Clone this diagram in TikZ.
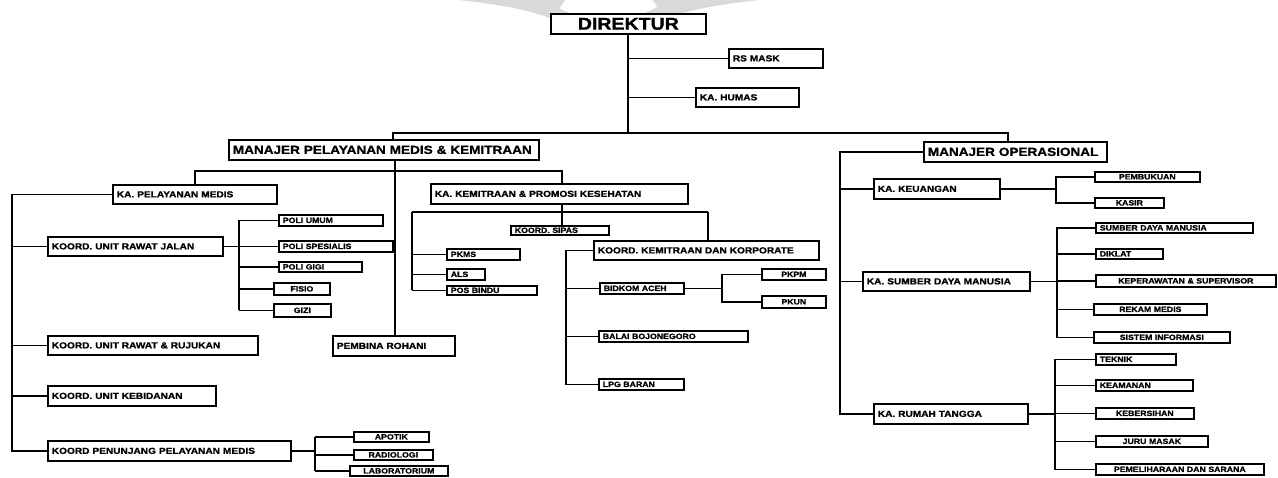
\documentclass[tikz,border=0pt]{standalone}
\usepackage{fontspec}
\setmainfont{Liberation Sans}[FakeStretch=1.15, BoldFeatures={FakeBold=1.2}]
\tikzset{
  box/.style={draw=black, line width=1.7pt, fill=white, inner xsep=4pt, inner ysep=0pt, align=left, font=\bfseries\fontsize{7.6}{8}\selectfont},
  fbig/.style={font=\bfseries\fontsize{11.8}{12}\selectfont},
  fmed/.style={font=\bfseries\fontsize{8.8}{10}\selectfont},
  fdir/.style={font=\bfseries\fontsize{17}{18}\selectfont, align=center},
  ctr/.style={align=center},
  link/.style={draw=black, line width=1.5pt},
  wm/.style={gray!30}
}
\newcommand\bx[7][]{%
  \pgfmathsetmacro\bw{#5-#3}\pgfmathsetmacro\bh{#6-#4}\pgfmathsetmacro\tw{#5-#3-8}%
  \node[box,#1,anchor=north west,minimum width=\bw pt,minimum height=\bh pt,text width=\tw pt] (#2) at (#3,#4) {#7};}
\begin{document}
\begin{tikzpicture}[x=1pt,y=-1pt]
\useasboundingbox (0,0) rectangle (1278,477);
\clip (0,0) rectangle (1278,477);
\fill[white] (0,0) rectangle (1278,477);
% watermark (faint logo at the top)
\fill[wm] (448,-1) .. controls (500,4) and (530,10) .. (552,19) -- (566,-1) -- cycle;
\fill[wm] (770,-1) .. controls (718,4) and (688,10) .. (666,19) -- (652,-1) -- cycle;
\draw[wm, line width=11pt] (607,-2) ellipse[x radius=62pt, y radius=26pt];
% top level
\bx[fdir]{dir}{550}{13}{705}{33}{DIREKTUR}
\bx[fmed]{rs}{728}{48}{822}{67}{RS MASK}
\bx[fmed]{hum}{695}{87}{798}{106}{KA. HUMAS}
\coordinate (t1) at (628,133);
\coordinate (ml) at (393,133);
\coordinate (mr) at (1008,133);
\draw[link] (dir.south -| t1) -- (t1);
\draw[link] (t1 |- rs.west) -- (rs.west);
\draw[link] (t1 |- hum.west) -- (hum.west);
\bx[fbig]{mpm}{228}{139}{538}{159}{MANAJER PELAYANAN MEDIS \& KEMITRAAN}
\bx[fbig]{mo}{923}{141}{1106}{161}{MANAJER OPERASIONAL}
\draw[link] (mpm.north -| ml) -- (ml) -- (mr) -- (mo.north -| mr);
% under manajer pelayanan
\bx[fmed]{kpm}{112}{184}{276}{203}{KA. PELAYANAN MEDIS}
\bx[fmed]{kkp}{430}{183}{687}{203}{KA. KEMITRAAN \& PROMOSI KESEHATAN}
\bx[fmed]{pr}{332}{335}{454}{355}{PEMBINA ROHANI}
\coordinate (pv) at (395,171);
\coordinate (hl) at (195,171);
\coordinate (hr) at (562,171);
\draw[link] (mpm.south -| pv) -- (pr.north -| pv);
\draw[link] (kpm.north -| hl) -- (hl) -- (hr) -- (kkp.north -| hr);
% pelayanan medis
\bx[fmed]{krj}{47}{236}{222}{255}{KOORD. UNIT RAWAT JALAN}
\bx[fmed]{kri}{47}{335}{257}{354}{KOORD. UNIT RAWAT \& RUJUKAN}
\bx[fmed]{kkb}{47}{385}{215}{405}{KOORD. UNIT KEBIDANAN}
\bx[fmed]{kpu}{47}{440}{290}{460}{KOORD PENUNJANG PELAYANAN MEDIS}
\coordinate (lv) at (12,194);
\draw[link] (kpm.west) -- (kpm.west -| lv) -- (lv |- kpu.west) -- (kpu.west);
\foreach \n in {krj,kri,kkb} \draw[link] (lv |- \n.west) -- (\n.west);
\bx{pu}{278}{214}{382}{225}{POLI UMUM}
\bx{ps}{278}{240}{392}{251}{POLI SPESIALIS}
\bx{pg}{278}{261}{361}{271}{POLI GIGI}
\bx[ctr]{fi}{273}{282}{329}{294}{FISIO}
\bx[ctr]{gz}{273}{303}{330}{316}{GIZI}
\coordinate (v1) at (239,245);
\draw[link] (krj.east) -- (krj.east -| v1);
\draw[link] (v1 |- pu.west) -- (v1 |- gz.west);
\foreach \n in {pu,ps,pg,fi,gz} \draw[link] (v1 |- \n.west) -- (\n.west);
\bx[ctr]{ap}{353}{431}{428}{441}{APOTIK}
\bx[ctr]{ra}{353}{449}{432}{459}{RADIOLOGI}
\bx[ctr]{lb}{349}{465}{447}{475}{LABORATORIUM}
\coordinate (v2) at (315,450);
\draw[link] (kpu.east) -- (kpu.east -| v2);
\draw[link] (v2 |- ap.west) -- (v2 |- lb.west);
\foreach \n in {ap,ra,lb} \draw[link] (v2 |- \n.west) -- (\n.west);
% kemitraan
\coordinate (k1) at (562,212);
\coordinate (kl) at (412,212);
\coordinate (kr) at (708,212);
\bx{ks}{510}{225}{608}{234}{KOORD. SIPAS}
\bx[fmed]{kk}{593}{240}{818}{259}{KOORD. KEMITRAAN DAN KORPORATE}
\draw[link] (kkp.south -| k1) -- (k1);
\draw[link] (kl) -- (kr);
\draw[link] (k1) -- (ks.north -| k1);
\draw[link] (kr) -- (kk.north -| kr);
\bx{pk}{446}{248}{519}{259}{PKMS}
\bx{al}{446}{268}{484}{279}{ALS}
\bx{pb}{446}{285}{536}{294}{POS BINDU}
\draw[link] (kl) -- (kl |- pb.west);
\foreach \n in {pk,al,pb} \draw[link] (kl |- \n.west) -- (\n.west);
\bx{ba}{599}{282}{683}{293}{BIDKOM ACEH}
\bx{bj}{598}{330}{747}{341}{BALAI BOJONEGORO}
\bx{lp}{598}{378}{683}{389}{LPG BARAN}
\coordinate (kv) at (566,249);
\draw[link] (kk.west) -- (kk.west -| kv) -- (kv |- lp.west) -- (lp.west);
\foreach \n in {ba,bj} \draw[link] (kv |- \n.west) -- (\n.west);
\bx[ctr]{pm}{761}{268}{825}{279}{PKPM}
\bx[ctr]{pn}{761}{295}{825}{307}{PKUN}
\coordinate (v3) at (722,287);
\draw[link] (ba.east) -- (ba.east -| v3);
\draw[link] (pm.west) -- (pm.west -| v3) -- (v3 |- pn.west) -- (pn.west);
% operasional
\bx[fmed]{ku}{873}{178}{999}{198}{KA. KEUANGAN}
\bx[fmed]{sd}{862}{271}{1029}{290}{KA. SUMBER DAYA MANUSIA}
\bx[fmed]{rt}{873}{403}{1027}{423}{KA. RUMAH TANGGA}
\coordinate (ov) at (840,151);
\draw[link] (mo.west) -- (mo.west -| ov) -- (ov |- rt.west) -- (rt.west);
\foreach \n in {ku,sd} \draw[link] (ov |- \n.west) -- (\n.west);
\bx[ctr]{pe}{1094}{171}{1199}{181}{PEMBUKUAN}
\bx[ctr]{ka}{1094}{197}{1163}{207}{KASIR}
\coordinate (v4) at (1056,188);
\draw[link] (ku.east) -- (ku.east -| v4);
\draw[link] (pe.west) -- (pe.west -| v4) -- (v4 |- ka.west) -- (ka.west);
\bx{s1}{1095}{222}{1252}{232}{SUMBER DAYA MANUSIA}
\bx{s2}{1095}{248}{1162}{258}{DIKLAT}
\bx[ctr]{s3}{1095}{274}{1275}{286}{KEPERAWATAN \& SUPERVISOR}
\bx[ctr]{s4}{1093}{303}{1206}{314}{REKAM MEDIS}
\bx[ctr]{s5}{1093}{331}{1229}{342}{SISTEM INFORMASI}
\coordinate (v5) at (1057,281);
\draw[link] (sd.east) -- (sd.east -| v5);
\draw[link] (s1.west) -- (s1.west -| v5) -- (v5 |- s5.west) -- (s5.west);
\foreach \n in {s2,s3,s4} \draw[link] (v5 |- \n.west) -- (\n.west);
\bx{r1}{1095}{353}{1175}{364}{TEKNIK}
\bx{r2}{1095}{379}{1192}{390}{KEAMANAN}
\bx[ctr]{r3}{1095}{407}{1193}{418}{KEBERSIHAN}
\bx[ctr]{r4}{1095}{435}{1207}{446}{JURU MASAK}
\bx[ctr]{r5}{1095}{463}{1263}{474}{PEMELIHARAAN DAN SARANA}
\coordinate (v6) at (1055,413);
\draw[link] (rt.east) -- (rt.east -| v6);
\draw[link] (r1.west) -- (r1.west -| v6) -- (v6 |- r5.west) -- (r5.west);
\foreach \n in {r2,r3,r4} \draw[link] (v6 |- \n.west) -- (\n.west);
\end{tikzpicture}
\end{document}
